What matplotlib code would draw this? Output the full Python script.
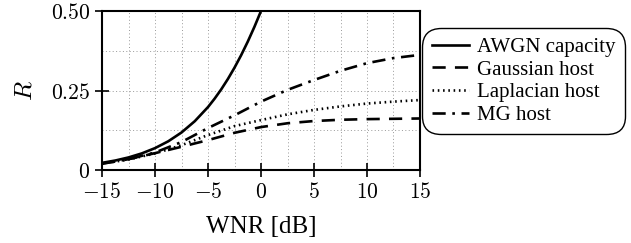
import matplotlib
matplotlib.use('Agg')
import matplotlib.pyplot as plt
from matplotlib.ticker import MultipleLocator

plt.rcParams['mathtext.fontset'] = 'cm'

# WNR in dB and rate values
wnr_awgn = [-15, -13.75, -12.5, -11.25, -10, -8.75, -7.5, -6.25, -5, -4.375, -3.75,
            -3.125, -2.5, -1.875, -1.25, -0.625, 0]
r_awgn = [0.0225, 0.0298, 0.0395, 0.0522, 0.0688, 0.0903, 0.118, 0.1535, 0.198, 0.2245, 0.2538,
          0.2862, 0.3219, 0.361, 0.4037, 0.45, 0.5]

wnr = [-15, -12.5, -10, -7.5, -5, -2.5, 0, 2.5, 5, 7.5, 10, 12.5, 15]
r_gauss = [0.02, 0.034, 0.053, 0.073, 0.094, 0.117, 0.135, 0.147, 0.154, 0.158, 0.160, 0.161, 0.162]
r_lap = [0.02, 0.033, 0.052, 0.078, 0.11, 0.138, 0.157, 0.175, 0.189, 0.200, 0.209, 0.215, 0.22]
r_mg = [0.02, 0.034, 0.055, 0.088, 0.132, 0.172, 0.215, 0.252, 0.283, 0.312, 0.336, 0.352, 0.362]

xticks = [-15, -10, -5, 0, 5, 10, 15]
yticks = [0, 0.25, 0.5]
ytick_labels = ['0', '0.25', '0.50']

fig = plt.figure(figsize=(6.31, 2.43), dpi=100)
ax = fig.add_axes([0.1617, 0.3004, 0.5039, 0.6543])

lw = 1.9
ax.plot(wnr_awgn, r_awgn, color='black', lw=lw, label='AWGN capacity')
ax.plot(wnr, r_gauss, color='black', lw=lw, dashes=(5, 3.5), label='Gaussian host')
ax.plot(wnr, r_lap, color='black', lw=lw, linestyle=(0, (0.6, 1.4)), label='Laplacian host')
ax.plot(wnr, r_mg, color='black', lw=lw, dashes=(5, 2.5, 1, 2.5), label='MG host')

ax.set_xlim(-15, 15)
ax.set_ylim(0, 0.5)
ax.set_xticks(xticks)
ax.set_xticklabels(['$%d$' % t for t in xticks])
ax.set_yticks(yticks)
ax.set_yticklabels(['$%s$' % t for t in ytick_labels])
ax.xaxis.set_minor_locator(MultipleLocator(2.5))
ax.yaxis.set_minor_locator(MultipleLocator(0.125))
ax.grid(True, which='both', color='#999999', linestyle=(0, (1, 2.5)), lw=0.7)
ax.tick_params(which='major', direction='inout', length=10, width=1.2, labelsize=15.5, color='black')
ax.tick_params(which='minor', length=0)
for s in ax.spines.values():
    s.set_linewidth(1.5)

ax.set_xlabel('WNR [dB]', fontsize=18, family='Liberation Serif', labelpad=10)
ax.set_ylabel('$R$', fontsize=18, labelpad=10)

leg = ax.legend(loc='upper left', bbox_to_anchor=(0.669, 0.885), bbox_transform=fig.transFigure,
                prop={'family': 'Liberation Serif', 'size': 15}, handlelength=1.8,
                labelspacing=0.15, handletextpad=0.4, borderpad=0.45, borderaxespad=0,
                frameon=True, fancybox=True, edgecolor='black', framealpha=1)
leg.get_frame().set_linewidth(1.0)
leg.get_frame().set_boxstyle('round', pad=0.0, rounding_size=0.9)

fig.savefig('out.png', dpi=100)
